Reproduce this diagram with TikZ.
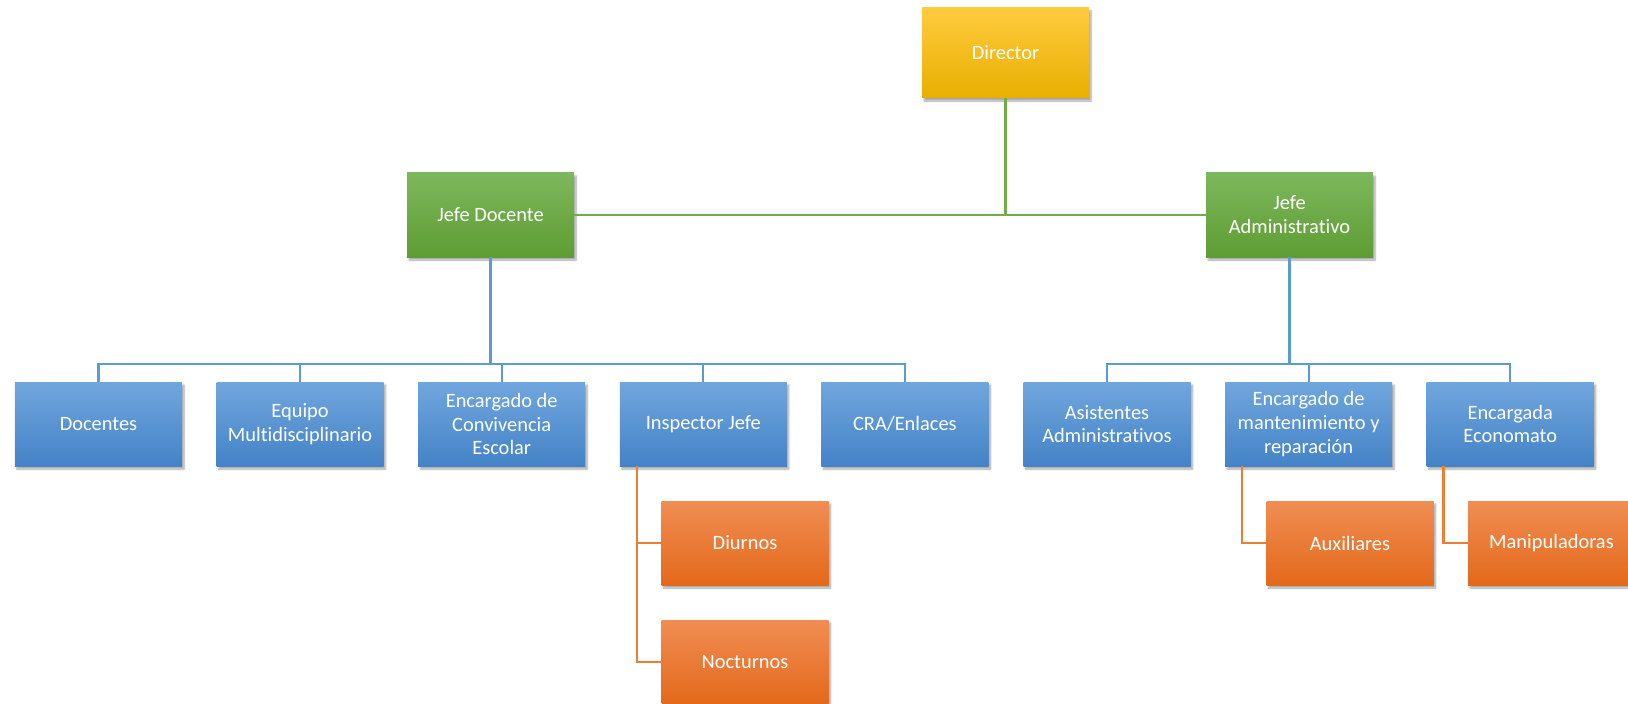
\documentclass[tikz,border=0pt]{standalone}
\usepackage{fontspec}
\setmainfont{Carlito}[Ligatures={NoCommon}]
\usetikzlibrary{shadows,shadows.blur}
\definecolor{dirtop}{HTML}{FFCB3F}
\definecolor{dirmid}{HTML}{FFC000}
\definecolor{dirbot}{HTML}{E8AF00}
\definecolor{jefetop}{HTML}{7DB75D}
\definecolor{jefebot}{HTML}{5E9D33}
\definecolor{unittop}{HTML}{70A6DD}
\definecolor{unitbot}{HTML}{4483C7}
\definecolor{subtop}{HTML}{F08D53}
\definecolor{subbot}{HTML}{E3691B}
\definecolor{linegreen}{HTML}{70AD47}
\definecolor{lineblue}{HTML}{5B9BD5}
\definecolor{lineorange}{HTML}{ED7D31}
\tikzset{x=1bp, y=-1bp,
    orgbox/.style={rectangle, minimum width=167bp, minimum height=84bp,
        inner sep=0pt, align=center, text=white,
        font=\fontsize{20.5}{24}\selectfont,
        blur shadow={shadow xshift=2bp, shadow yshift=-3bp,
            shadow blur steps=6, shadow opacity=35}},
    dirbox/.style={orgbox, minimum height=90bp,
        top color=dirtop, middle color=dirmid, bottom color=dirbot},
    jefebox/.style={orgbox, top color=jefetop, bottom color=jefebot},
    unitbox/.style={orgbox, top color=unittop, bottom color=unitbot},
    subbox/.style={orgbox, top color=subtop, bottom color=subbot},
    link/.style={line width=2.2bp},
    }
\begin{document}
\begin{tikzpicture}
	\useasboundingbox (0,0) rectangle (1628,704);
	\coordinate (busL) at (0,364);
	\coordinate (busR) at (0,364);
	\node[dirbox] (director) at (1005.5,53) {Director};
	\node[jefebox] (jefedoc) at (490.5,215) {Jefe Docente};
	\node[jefebox] (jefeadm) at (1289.5,215) {Jefe\\Administrativo};
	% docente side
	\node[unitbox] (docentes) at (98.5,424) {Docentes};
	\node[unitbox] (equipo) at (300.1,424) {Equipo\\Multidisciplinario};
	\node[unitbox] (convivencia) at (501.7,424) {Encargado de\\Convivencia\\Escolar};
	\node[unitbox] (inspector) at (703.3,424) {Inspector Jefe};
	\node[unitbox] (cra) at (904.9,424) {CRA/Enlaces};
	% administrativo side
	\node[unitbox] (asistentes) at (1107,424) {Asistentes\\Administrativos};
	\node[unitbox] (mantencion) at (1308.6,424) {Encargado de\\mantenimiento y\\reparación};
	\node[unitbox] (economato) at (1510.2,424) {Encargada\\Economato};
	% third level
	\node[subbox] (diurnos) at (745,543) {Diurnos};
	\node[subbox] (nocturnos) at (745,662) {Nocturnos};
	\node[subbox] (auxiliares) at (1350,543) {Auxiliares};
	\node[subbox] (manipuladoras) at (1551.5,543) {Manipuladoras};
	\coordinate (insp-leg) at ([xshift=17bp]inspector.south west);
	\coordinate (mant-leg) at ([xshift=17bp]mantencion.south west);
	\coordinate (econ-leg) at ([xshift=17bp]economato.south west);
	% connectors
	\draw[link,linegreen] (director.south) -- (director.south |- jefedoc);
	\draw[link,linegreen] (jefedoc.east) -- (jefeadm.west);
	\draw[link,lineblue] (jefedoc.south) -- (jefedoc.south |- busL);
	\draw[link,lineblue] (docentes.north) |- (cra.north |- busL) -- (cra.north);
	\foreach \n in {equipo,convivencia,inspector}
		\draw[link,lineblue] (\n.north) -- (\n.north |- busL);
	\draw[link,lineblue] (jefeadm.south) -- (jefeadm.south |- busR);
	\draw[link,lineblue] (asistentes.north) |- (economato.north |- busR) -- (economato.north);
	\draw[link,lineblue] (mantencion.north) -- (mantencion.north |- busR);
	\draw[link,lineorange] (insp-leg) |- (nocturnos.west);
	\draw[link,lineorange] (insp-leg |- diurnos) -- (diurnos.west);
	\draw[link,lineorange] (mant-leg) |- (auxiliares.west);
	\draw[link,lineorange] (econ-leg) |- (manipuladoras.west);
\end{tikzpicture}
\end{document}
